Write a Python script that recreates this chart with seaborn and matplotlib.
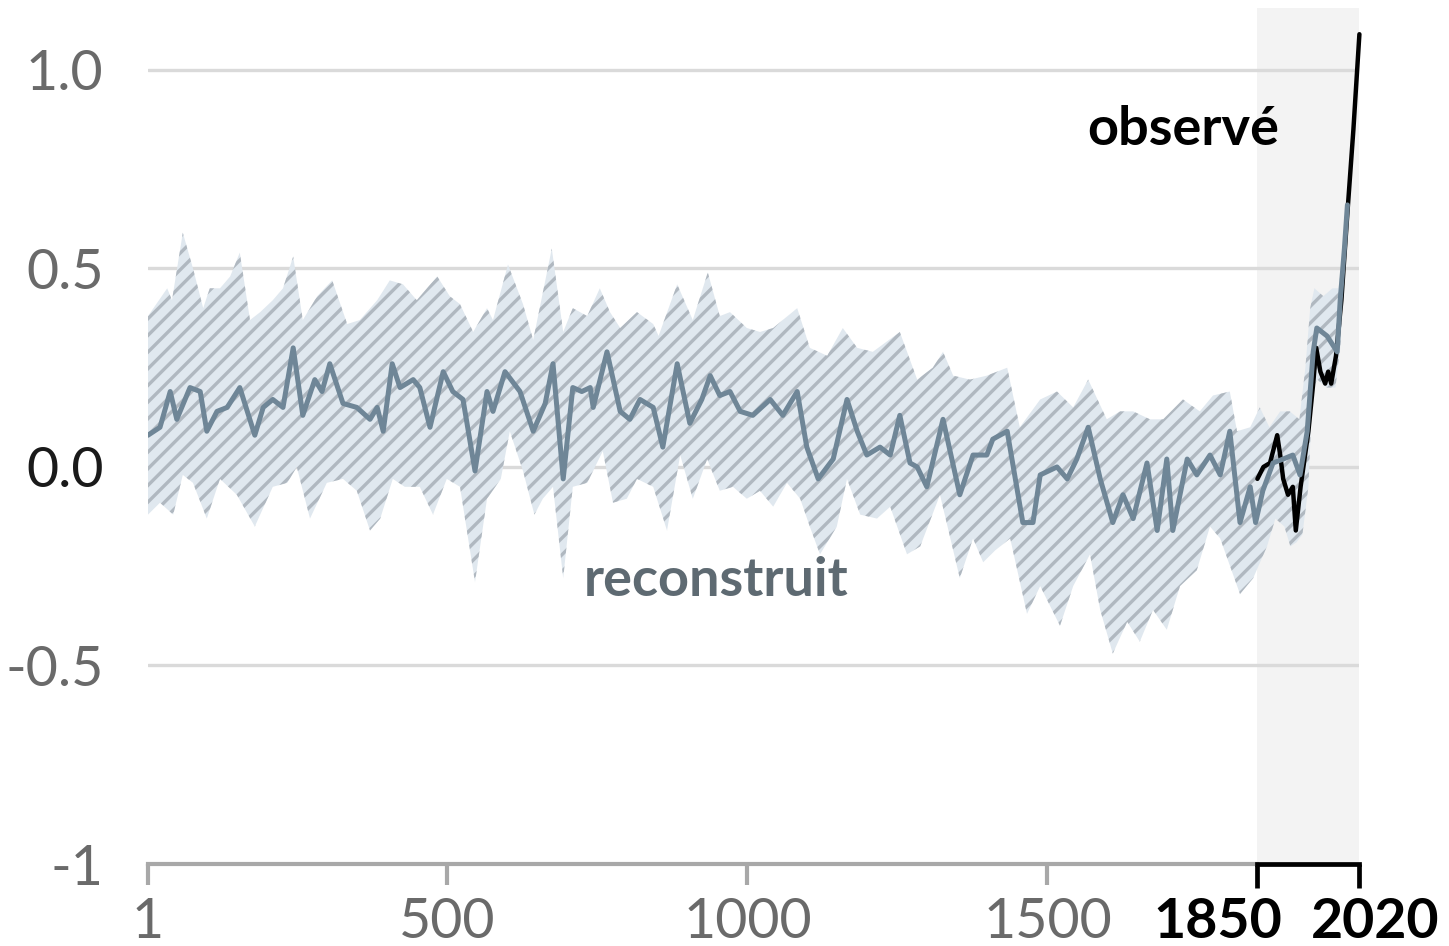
import matplotlib
matplotlib.use("Agg")
import matplotlib.pyplot as plt
import matplotlib.transforms as mtransforms
import seaborn as sns
import pandas as pd

# ---------------- data ----------------
median_years = [1, 21, 38, 49, 71, 88, 99, 116, 133, 154, 179, 193, 209, 226, 243, 259, 279, 291, 304,
                326, 349, 371, 383, 393, 408, 421, 443, 454, 471, 493, 509, 526, 546, 566, 576, 596, 621,
                643, 663, 676, 693, 709, 724, 738, 743, 766, 788, 804, 821, 843, 859, 883, 904, 924, 938,
                954, 971, 988, 1009, 1038, 1059, 1083, 1099, 1118, 1143, 1166, 1183, 1199, 1221, 1238,
                1254, 1271, 1283, 1299, 1326, 1354, 1376, 1399, 1409, 1433, 1459, 1476, 1488, 1516, 1533,
                1549, 1568, 1588, 1609, 1626, 1643, 1666, 1683, 1699, 1709, 1733, 1749, 1771, 1788, 1804,
                1821, 1838, 1847, 1859, 1876, 1893, 1909, 1921, 1933, 1943, 1949, 1966, 1983, 1988, 1995,
                2000]
median_vals = [0.08, 0.10, 0.19, 0.12, 0.20, 0.19, 0.09, 0.14, 0.15, 0.20, 0.08, 0.15, 0.17, 0.15, 0.30,
               0.13, 0.22, 0.19, 0.26, 0.16, 0.15, 0.12, 0.15, 0.09, 0.26, 0.20, 0.22, 0.20, 0.10, 0.24,
               0.19, 0.17, -0.01, 0.19, 0.14, 0.24, 0.19, 0.09, 0.16, 0.26, -0.03, 0.20, 0.19, 0.20, 0.15,
               0.29, 0.14, 0.12, 0.17, 0.15, 0.05, 0.26, 0.11, 0.17, 0.23, 0.18, 0.19, 0.14, 0.13, 0.17,
               0.13, 0.19, 0.05, -0.03, 0.02, 0.17, 0.09, 0.03, 0.05, 0.03, 0.13, 0.01, 0.00, -0.05, 0.12,
               -0.07, 0.03, 0.03, 0.07, 0.09, -0.14, -0.14, -0.02, 0.00, -0.03, 0.02, 0.10, -0.03, -0.14,
               -0.07, -0.13, 0.01, -0.16, 0.02, -0.16, 0.02, -0.02, 0.03, -0.02, 0.09, -0.14, -0.05, -0.14,
               -0.06, 0.01, 0.02, 0.03, -0.02, 0.09, 0.29, 0.35, 0.33, 0.29, 0.42, 0.55, 0.66]

upper_years = [1, 33, 41, 59, 76, 93, 104, 121, 138, 154, 171, 188, 209, 226, 243, 259, 283, 308, 333,
               354, 383, 404, 426, 449, 483, 504, 521, 543, 566, 576, 601, 626, 643, 674, 693, 709, 733,
               754, 771, 788, 816, 843, 852, 883, 909, 934, 954, 971, 999, 1021, 1043, 1083, 1104, 1133,
               1159, 1183, 1209, 1254, 1283, 1309, 1326, 1343, 1371, 1399, 1433, 1454, 1488, 1516, 1543,
               1568, 1599, 1621, 1643, 1671, 1693, 1726, 1754, 1776, 1804, 1816, 1838, 1854, 1870, 1888,
               1904, 1920, 1930, 1938, 1945, 1960, 1975, 1985, 1992, 2000]
upper_vals = [0.38, 0.45, 0.42, 0.59, 0.50, 0.40, 0.45, 0.45, 0.48, 0.54, 0.37, 0.39, 0.42, 0.45, 0.53,
              0.37, 0.43, 0.47, 0.36, 0.37, 0.42, 0.47, 0.46, 0.42, 0.48, 0.43, 0.41, 0.34, 0.40, 0.37,
              0.51, 0.41, 0.32, 0.55, 0.34, 0.40, 0.38, 0.45, 0.39, 0.35, 0.39, 0.36, 0.33, 0.46, 0.37,
              0.49, 0.38, 0.39, 0.35, 0.34, 0.35, 0.40, 0.30, 0.28, 0.35, 0.30, 0.29, 0.34, 0.22, 0.25,
              0.29, 0.23, 0.22, 0.23, 0.25, 0.10, 0.17, 0.19, 0.15, 0.22, 0.12, 0.14, 0.14, 0.12, 0.12,
              0.17, 0.14, 0.18, 0.19, 0.09, 0.10, 0.15, 0.10, 0.14, 0.14, 0.12, 0.25, 0.40, 0.45, 0.43,
              0.45, 0.45, 0.52, 0.67]

lower_years = [1, 21, 43, 59, 76, 99, 121, 149, 179, 209, 233, 249, 271, 299, 326, 349, 371, 388, 409,
               429, 454, 476, 499, 521, 546, 566, 589, 604, 626, 645, 659, 676, 693, 709, 733, 759, 776,
               799, 816, 843, 866, 888, 909, 933, 954, 976, 999, 1021, 1043, 1066, 1088, 1104, 1121, 1149,
               1166, 1188, 1216, 1238, 1266, 1288, 1321, 1354, 1376, 1393, 1413, 1438, 1466, 1488, 1521,
               1543, 1571, 1588, 1609, 1633, 1654, 1676, 1699, 1721, 1749, 1771, 1788, 1821, 1843, 1866,
               1880, 1895, 1905, 1915, 1925, 1935, 1942, 1950, 1965, 1980, 1988, 1995, 2000]
lower_vals = [-0.12, -0.09, -0.12, -0.02, -0.04, -0.13, -0.03, -0.07, -0.15, -0.05, -0.04, 0.00, -0.13,
              -0.04, -0.03, -0.06, -0.16, -0.13, -0.03, -0.05, -0.05, -0.12, -0.03, -0.05, -0.29, -0.08,
              -0.03, 0.09, -0.01, -0.12, -0.08, -0.05, -0.28, -0.05, -0.04, 0.04, -0.09, -0.08, -0.03,
              -0.05, -0.16, 0.03, -0.08, 0.02, -0.06, -0.05, -0.08, -0.06, -0.10, -0.04, -0.08, -0.15,
              -0.22, -0.15, -0.03, -0.12, -0.13, -0.10, -0.22, -0.20, -0.07, -0.28, -0.18, -0.24, -0.21,
              -0.18, -0.37, -0.30, -0.40, -0.30, -0.22, -0.36, -0.47, -0.39, -0.44, -0.36, -0.41, -0.30,
              -0.26, -0.15, -0.18, -0.32, -0.28, -0.20, -0.13, -0.15, -0.20, -0.19, -0.17, -0.05, 0.20,
              0.22, 0.20, 0.20, 0.30, 0.50, 0.64]

observed_years = [1850, 1860, 1871, 1883, 1888, 1893, 1901, 1909, 1914, 1922, 1935, 1943, 1948, 1955,
                  1963, 1968, 1973, 1981, 1990, 2000, 2010, 2020]
observed_vals = [-0.03, 0.00, 0.01, 0.08, 0.03, -0.03, -0.07, -0.05, -0.16, -0.05, 0.09, 0.21, 0.30, 0.24,
                 0.21, 0.24, 0.21, 0.28, 0.42, 0.64, 0.85, 1.09]

x_ticks = [1, 500, 1000, 1500]
x_tick_labels = ["1", "500", "1000", "1500"]
recent_period = [1850, 2020]
recent_labels = ["1850", "2020"]
y_ticks = [1.0, 0.5, 0.0, -0.5, -1.0]
y_tick_labels = ["1.0", "0.5", "0.0", "-0.5", "-1"]
label_observed = "observé"
label_reconstructed = "reconstruit"

# ---------------- style ----------------
sns.set_theme(style="white")
plt.rcParams["font.family"] = ["Lato", "DejaVu Sans"]
plt.rcParams["hatch.linewidth"] = 2.4
plt.rcParams["hatch.color"] = "#b0b8c0"
plt.rcParams["xtick.bottom"] = True
plt.rcParams["xtick.major.size"] = 15
plt.rcParams["xtick.major.width"] = 3.0
plt.rcParams["xtick.direction"] = "out"

GRID = "#dadada"
AXIS_GRAY = "#a8a8a8"
TICK_TXT = "#6a6a6a"
LINE_COL = "#6f8697"
FS = 40
FS_TXT = 39

fig = plt.figure(figsize=(14.49, 9.46), dpi=100)
ax = fig.add_axes([148 / 1449, 82 / 946, 1211.4 / 1449, 856 / 946])
ax.set_xlim(1, 2020)
ax.set_ylim(-1.0, 1.156)

# shaded recent period
ax.axvspan(recent_period[0], recent_period[1], color="#f3f3f3", zorder=0, lw=0)

# gridlines
for v in y_ticks[:-1]:
    ax.axhline(v, color=GRID, lw=2.4, zorder=0.5)

# uncertainty band (polygon from upper + reversed lower)
band_x = upper_years + lower_years[::-1]
band_y = upper_vals + lower_vals[::-1]
ax.fill(band_x, band_y, facecolor="#e0e8ef", edgecolor="#b0b8c0", hatch="//", lw=0, zorder=1)

# observed (black) then reconstructed median on top
obs = pd.DataFrame({"year": observed_years, "value": observed_vals})
med = pd.DataFrame({"year": median_years, "value": median_vals})
sns.lineplot(data=obs, x="year", y="value", color="black", lw=3.2, ax=ax, zorder=3,
             estimator=None, sort=False, clip_on=False)
sns.lineplot(data=med, x="year", y="value", color=LINE_COL, lw=3.6, ax=ax, zorder=4,
             estimator=None, sort=False)

# axes styling
for s in ["top", "right", "left"]:
    ax.spines[s].set_visible(False)
ax.spines["bottom"].set_color(AXIS_GRAY)
ax.spines["bottom"].set_linewidth(3.0)
ax.spines["bottom"].set_bounds(x_ticks[0], recent_period[0])
ax.set_xlabel("")
ax.set_ylabel("")

ax.set_xticks(x_ticks + recent_period)
ax.set_xticklabels(x_tick_labels + recent_labels)
ax.tick_params(axis="x", which="major", bottom=True, length=15, width=3.0, color=AXIS_GRAY,
               pad=9, labelsize=FS, labelcolor=TICK_TXT, direction="out")
ticks = ax.xaxis.get_major_ticks()
for i, t in enumerate(ticks):
    t.tick1line.set_visible(True)
    t.tick1line.set_zorder(6)
    if i >= len(x_ticks):
        t.tick1line.set_color("black")
        t.tick1line.set_markeredgecolor("black")
        t.tick1line.set_markeredgewidth(3.4)
        t.tick1line.set_markersize(17)
    else:
        t.tick1line.set_markeredgecolor(AXIS_GRAY)
labels = ax.get_xticklabels()
for lab in labels[-2:]:
    lab.set_color("black")
    lab.set_fontweight("bold")
labels[-2].set_transform(labels[-2].get_transform() +
                         mtransforms.ScaledTranslation(-40 / 100, 0, fig.dpi_scale_trans))
labels[-1].set_transform(labels[-1].get_transform() +
                         mtransforms.ScaledTranslation(16 / 100, 0, fig.dpi_scale_trans))

# black bracket over recent period
ax.plot(recent_period, [y_ticks[-1], y_ticks[-1]], color="black", lw=3.4, clip_on=False, zorder=5,
        solid_capstyle="projecting")

ax.set_yticks(y_ticks)
ax.set_yticklabels(y_tick_labels)
ax.tick_params(axis="y", left=False, length=0, pad=32, labelsize=FS, labelcolor=TICK_TXT)
ax.get_yticklabels()[2].set_color("#1a1a1a")

# annotations
ax.text(1726, 0.85, label_observed, fontsize=FS_TXT, fontweight="bold", color="black",
        ha="center", va="center", zorder=6)
ax.text(948, -0.285, label_reconstructed, fontsize=FS_TXT, fontweight="bold", color="#5e6a72",
        ha="center", va="center", zorder=6)

fig.savefig("out.png", dpi=100)
